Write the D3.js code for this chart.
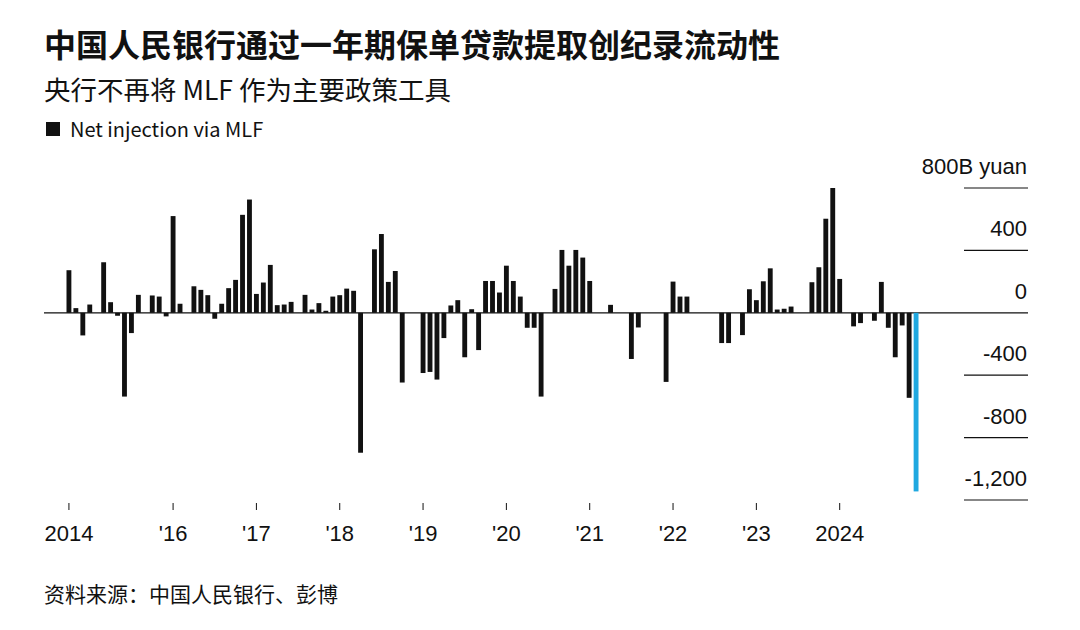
<!DOCTYPE html>
<html>
<head>
<meta charset="utf-8">
<script src="https://cdn.jsdelivr.net/npm/d3@7"></script>
<style>
  body { margin: 0; background: #fff; }
  svg { font-family: "Noto Sans CJK SC", "Noto Sans", sans-serif; }
</style>
</head>
<body>
<svg id="chart" width="1080" height="630"></svg>
<script>
// 月度 MLF 净投放（十亿元），2014年10月 - 2024年12月
const values = [
  273, 30, -145,
  53, 0, 324, 68, -19, -537, -130, 115, 0, 111, 104, -23,
  620, 58, 0, 170, 147, 113, -38, 58, 158, 211, 628, 726,
  121, 194, 307, 49, 53, 70, 0, 115, 21, 62, 13, 104,
  113, 155, 141, -897, 0, 407, 505, 198, 268, -447, 0, 0,
  -386, -379, -428, -162, 47, 81, -285, 23, -239, 204, 204, 130,
  302, 204, 104, -96, -96, -537, 0, 153, 403, 302, 403, 354,
  204, 0, 0, 51, 0, 0, -296, -94, 0, 0, 0, -443,
  200, 104, 104, 0, 0, 0, 0, -194, -194, 0, -143, 151,
  81, 202, 285, 21, 26, 40, 0, 0, 196, 292, 603, 800,
  217, 0, -87, -66, 0, -51, 198, -96, -285, -81, -545, -1145
];
const yTicks = [800, 400, 0, -400, -800, -1200];
const yTickLabels = ["800B yuan", "400", "0", "-400", "-800", "-1,200"];
const xTickIdx = [0, 15, 27, 39, 51, 63, 75, 87, 99, 111];
const xTickLabels = ["2014", "'16", "'17", "'18", "'19", "'20", "'21", "'22", "'23", "2024"];

const ink = "#111";
const latin = "Liberation Sans, Arial, sans-serif";
const svg = d3.select("#chart");

const x = d3.scaleBand()
  .domain(d3.range(values.length))
  .range([66.5, 918.5])
  .paddingInner(0.3);
const y = d3.scaleLinear().domain([-1200, 800]).range([500, 188]);

// 标题
svg.append("text").attr("x", 44).attr("y", 57)
  .attr("font-size", 32).attr("font-weight", 700).attr("fill", ink)
  .text("中国人民银行通过一年期保单贷款提取创纪录流动性");
svg.append("text").attr("x", 44).attr("y", 100)
  .attr("font-size", 26.5).attr("fill", ink)
  .text("央行不再将 MLF 作为主要政策工具");
svg.append("rect").attr("x", 46).attr("y", 122).attr("width", 14).attr("height", 14).attr("fill", ink);
svg.append("text").attr("x", 70).attr("y", 137)
  .attr("font-size", 20).attr("fill", ink).text("Net injection via MLF");

// y 轴：右侧短线 + 标签
const yg = svg.append("g");
yTicks.forEach((t, i) => {
  if (t !== 0) {
    yg.append("line").attr("x1", 964).attr("x2", 1028)
      .attr("y1", y(t)).attr("y2", y(t)).attr("stroke", ink).attr("stroke-width", 1.2);
  }
  yg.append("text").attr("x", 1027).attr("y", y(t) - 14)
    .attr("text-anchor", "end").attr("font-size", 22).attr("fill", ink)
    .attr("font-family", latin)
    .text(yTickLabels[i]);
});

// 零线
svg.append("line").attr("x1", 44).attr("x2", 1028)
  .attr("y1", y(0)).attr("y2", y(0)).attr("stroke", ink).attr("stroke-width", 1.2);

// 柱子
svg.append("g").selectAll("rect").data(values).join("rect")
  .attr("x", (d, i) => x(i))
  .attr("width", x.bandwidth())
  .attr("y", d => y(Math.max(0, d)))
  .attr("height", d => Math.abs(y(d) - y(0)))
  .attr("fill", (d, i) => i === values.length - 1 ? "#1fa8e0" : ink);

// x 轴刻度
const xg = svg.append("g");
xTickIdx.forEach((idx, i) => {
  const cx = x(idx) + x.bandwidth() / 2;
  xg.append("line").attr("x1", cx).attr("x2", cx).attr("y1", 503).attr("y2", 510)
    .attr("stroke", ink).attr("stroke-width", 1);
  xg.append("text").attr("x", cx).attr("y", 541).attr("text-anchor", "middle")
    .attr("font-size", 22).attr("fill", ink)
    .attr("font-family", latin)
    .text(xTickLabels[i]);
});

svg.append("text").attr("x", 44).attr("y", 602)
  .attr("font-size", 21).attr("fill", ink).text("资料来源：中国人民银行、彭博");
</script>
</body>
</html>
